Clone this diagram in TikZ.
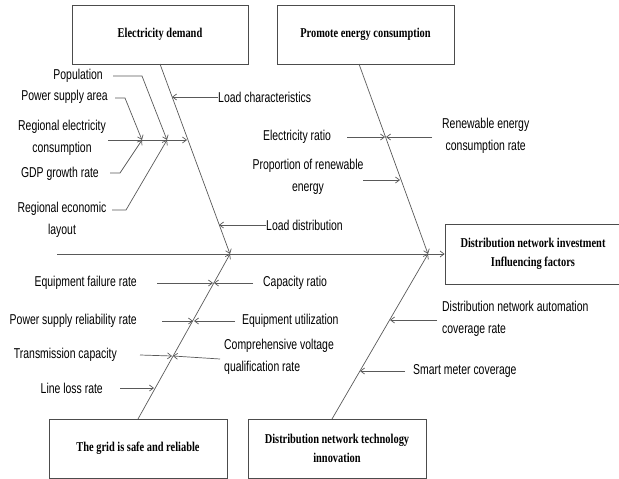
\documentclass[tikz,border=0pt]{standalone}
\usepackage{fontspec}
\setmainfont{Liberation Sans}
\newfontfamily\lblfont[FakeStretch=0.73]{Liberation Sans}
\newfontfamily\ttlfont[FakeStretch=0.77]{Liberation Serif}
\usetikzlibrary{arrows.meta}
\begin{document}
\begin{tikzpicture}[x=1pt,y=-1pt,
  box/.style={draw=black!70, line width=0.8pt, inner sep=0pt, fill=white,
    font=\ttlfont\bfseries\fontsize{13.5}{19}\selectfont, align=center},
  lab/.style={font=\lblfont\fontsize{14.3}{22}\selectfont, inner sep=0pt, align=center},
  bone/.style={draw=black!65, line width=0.7pt},
  arr/.style={bone, -{Straight Barb[length=4pt,width=6pt]}}]
\useasboundingbox (0,0) rectangle (619,479);
\clip (0,0) rectangle (619,479);

% boxes
\node[box, minimum width=176pt, minimum height=59pt] (ed) at (160,34.5) {Electricity demand};
\node[box, minimum width=177pt, minimum height=59pt] (pe) at (365.5,34.5) {Promote energy consumption};
\node[box, minimum width=176pt, minimum height=60pt] (root) at (533,254) {Distribution network investment\\Influencing factors};
\node[box, minimum width=178pt, minimum height=59pt] (gs) at (138,448.5) {The grid is safe and reliable};
\node[box, minimum width=178pt, minimum height=59pt] (ti) at (337,448.5) {Distribution network technology\\innovation};

% spine
\coordinate (tail) at (57,254);
\draw[arr] (tail) -- (root.west);

% bone end points
\coordinate (edb) at (160,64);
\coordinate (peb) at (359,64);
\coordinate (gsb) at (138,419);
\coordinate (tib) at (332,419);
\coordinate (j1) at (230,254);
\coordinate (j2) at (428,254);
\draw[arr] (edb) -- (j1);
\draw[arr] (peb) -- (j2);
\draw[arr] (gsb) -- (j1);
\draw[arr] (tib) -- (j2);

% ---- Electricity demand side
\node[lab, anchor=east] (pop) at (103,76) {Population};
\node[lab, anchor=east] (psa) at (108,97) {Power supply area};
\node[lab] (rec) at (62,138) {Regional electricity\\consumption};
\node[lab, anchor=east] (gdp) at (99,174) {GDP growth rate};
\node[lab] (rel) at (62,220) {Regional economic\\layout};
\node[lab, anchor=west] (lc) at (218,97) {Load characteristics};
\node[lab, anchor=west] (ld) at (266,225) {Load distribution};

\coordinate (h0) at (108,140);
\coordinate (ha) at (142,140);
\coordinate (hb) at (167,140);
\coordinate (hc) at (187,140);
\draw[arr] (h0) -- (hc);
\draw[arr] (113,76) -- (142,76) -- (hb);
\draw[arr] (115,98) -- (125,98) -- (ha);
\draw[arr] (110,173) -- (120,173) -- (ha);
\draw[arr] (112,210) -- (126,210) -- (hb);
\draw[arr] (lc.west) -- (172,97);
\draw[arr] (ld.west) -- (219,225);

% ---- Promote energy consumption side
\node[lab] (er) at (297,137) {Electricity ratio};
\node[lab, anchor=west] (rer) at (442,136) {Renewable energy\\consumption rate};
\node[lab] (pre) at (308,177) {Proportion of renewable\\energy};
\draw[arr] (347,137) -- (385,137);
\draw[arr] (432,137) -- (386,137);
\draw[arr] (363,180) -- (400,180);

% ---- Grid safe side
\node[lab, anchor=east] (efr) at (137,283) {Equipment failure rate};
\node[lab, anchor=west] (cr) at (263,283) {Capacity ratio};
\node[lab, anchor=east] (psr) at (137,321) {Power supply reliability rate};
\node[lab, anchor=west] (eu) at (242,321) {Equipment utilization};
\node[lab, anchor=east] (tc) at (117,355) {Transmission capacity};
\node[lab, align=left, anchor=west] (cv) at (224,357) {Comprehensive voltage\\qualification rate};
\node[lab, anchor=east] (llr) at (103,388) {Line loss rate};
\draw[arr] (157,283) -- (213,283);
\draw[arr] (253,283) -- (214,283);
\draw[arr] (162,321) -- (193,321);
\draw[arr] (235,321) -- (194,321);
\draw[arr] (140,355) -- (172,356);
\draw[arr] (220,359) -- (173,356);
\draw[arr] (120,388) -- (154,388);

% ---- Technology side
\node[lab, align=left, anchor=west] (dna) at (442,319) {Distribution network automation\\coverage rate};
\node[lab, anchor=west] (smc) at (413,371) {Smart meter coverage};
\draw[arr] (437,320) -- (390,320);
\draw[arr] (smc.west) ++(-8,0) -- (360,371);
\end{tikzpicture}
\end{document}
